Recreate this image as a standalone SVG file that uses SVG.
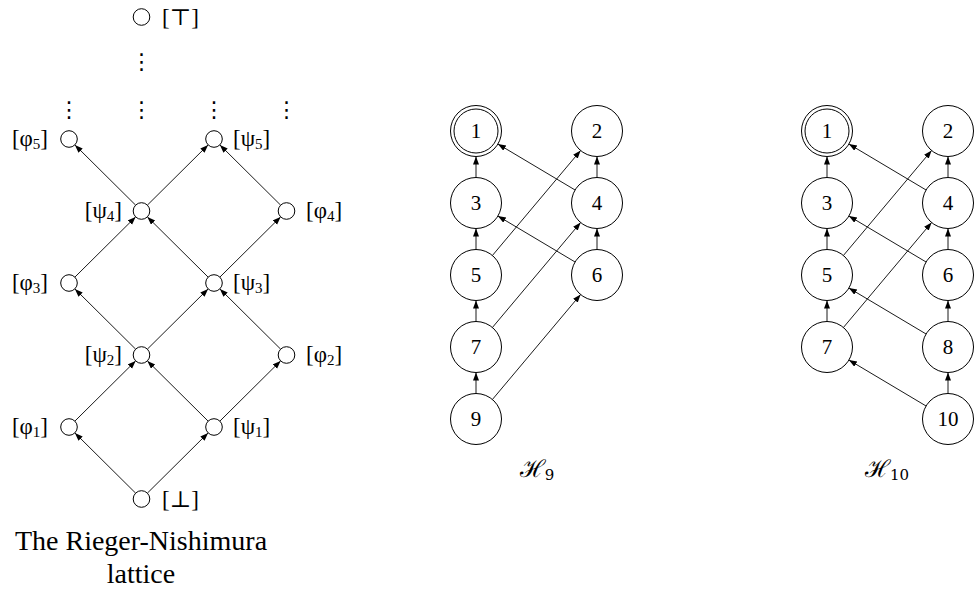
<svg xmlns="http://www.w3.org/2000/svg" width="974" height="592" viewBox="0 0 974 592">
<style>
.bg{fill:#fff}
.sn{fill:#fff;stroke:#000;stroke-width:1}
.bn{fill:#fff;stroke:#000;stroke-width:1}
.e{stroke:#000;stroke-width:0.9;fill:none;marker-end:url(#ah)}
.lb{font-family:"Liberation Serif","DejaVu Serif",serif;font-size:23px;fill:#000}
.num{font-family:"Liberation Serif","DejaVu Serif",serif;font-size:21px;fill:#000;text-anchor:middle}
.cap{font-family:"Liberation Serif","DejaVu Serif",serif;font-size:28px;fill:#000;text-anchor:middle}
.hc{font-family:"DejaVu Serif","Liberation Serif",serif;font-size:24px;fill:#000;text-anchor:middle}
.dots{font-family:"DejaVu Sans",sans-serif;font-size:22px;fill:#000;text-anchor:middle}
.sub{font-size:15px}
</style>
<defs>
<marker id="ah" markerUnits="userSpaceOnUse" markerWidth="10" markerHeight="8" refX="8" refY="3" orient="auto">
<path d="M0,0 L8,3 L0,6 z" fill="#000"/>
</marker>
</defs>
<rect class="bg" x="0" y="0" width="974" height="592"/>

<g id="connectors">
<!-- lattice -->
<line class="e" x1="135.6" y1="205.1" x2="74.9" y2="144.9"/>
<line class="e" x1="147.4" y1="205.1" x2="208.1" y2="144.9"/>
<line class="e" x1="280.6" y1="205.1" x2="219.9" y2="144.9"/>
<line class="e" x1="74.9" y1="277.1" x2="135.6" y2="216.9"/>
<line class="e" x1="208.1" y1="277.1" x2="147.4" y2="216.9"/>
<line class="e" x1="219.9" y1="277.1" x2="280.6" y2="216.9"/>
<line class="e" x1="135.6" y1="349.1" x2="74.9" y2="288.9"/>
<line class="e" x1="147.4" y1="349.1" x2="208.1" y2="288.9"/>
<line class="e" x1="280.6" y1="349.1" x2="219.9" y2="288.9"/>
<line class="e" x1="74.9" y1="421.1" x2="135.6" y2="360.9"/>
<line class="e" x1="208.1" y1="421.1" x2="147.4" y2="360.9"/>
<line class="e" x1="219.9" y1="421.1" x2="280.6" y2="360.9"/>
<line class="e" x1="135.6" y1="493.1" x2="74.9" y2="432.9"/>
<line class="e" x1="147.4" y1="493.1" x2="208.1" y2="432.9"/>
<!-- H9 -->
<line class="e" x1="476" y1="177.5" x2="476" y2="156.5"/>
<line class="e" x1="476" y1="249.5" x2="476" y2="228.5"/>
<line class="e" x1="476" y1="321.5" x2="476" y2="300.5"/>
<line class="e" x1="476" y1="393.5" x2="476" y2="372.5"/>
<line class="e" x1="597" y1="177.5" x2="597" y2="156.5"/>
<line class="e" x1="597" y1="249.5" x2="597" y2="228.5"/>
<line class="e" x1="575.1" y1="190" x2="497.9" y2="144"/>
<line class="e" x1="492.4" y1="255.5" x2="580.6" y2="150.5"/>
<line class="e" x1="575.1" y1="262" x2="497.9" y2="216"/>
<line class="e" x1="492.4" y1="327.5" x2="580.6" y2="222.5"/>
<line class="e" x1="492.4" y1="399.5" x2="580.6" y2="294.5"/>
<!-- H10 -->
<line class="e" x1="827" y1="177.5" x2="827" y2="156.5"/>
<line class="e" x1="827" y1="249.5" x2="827" y2="228.5"/>
<line class="e" x1="827" y1="321.5" x2="827" y2="300.5"/>
<line class="e" x1="948" y1="177.5" x2="948" y2="156.5"/>
<line class="e" x1="948" y1="249.5" x2="948" y2="228.5"/>
<line class="e" x1="948" y1="321.5" x2="948" y2="300.5"/>
<line class="e" x1="948" y1="393.5" x2="948" y2="372.5"/>
<line class="e" x1="926.1" y1="190" x2="848.9" y2="144"/>
<line class="e" x1="843.4" y1="255.5" x2="931.6" y2="150.5"/>
<line class="e" x1="926.1" y1="262" x2="848.9" y2="216"/>
<line class="e" x1="843.4" y1="327.5" x2="931.6" y2="222.5"/>
<line class="e" x1="926.1" y1="334" x2="848.9" y2="288"/>
<line class="e" x1="926.1" y1="406" x2="848.9" y2="360"/>
</g>

<!-- lattice nodes -->
<g id="top"><circle class="sn" cx="141.5" cy="17" r="8.3"/><text class="lb" x="162" y="25">[⊤]</text></g>
<g id="vdots">
<text class="dots" x="141.5" y="69">⋮</text>
<text class="dots" x="69" y="117">⋮</text>
<text class="dots" x="141.5" y="117">⋮</text>
<text class="dots" x="214" y="117">⋮</text>
<text class="dots" x="286.5" y="117">⋮</text>
</g>
<g id="phi5"><circle class="sn" cx="69" cy="139" r="8.3"/><text class="lb" x="48" y="146" text-anchor="end">[φ<tspan class="sub" dy="3">5</tspan><tspan dy="-3">]</tspan></text></g>
<g id="psi5"><circle class="sn" cx="214" cy="139" r="8.3"/><text class="lb" x="233" y="146">[ψ<tspan class="sub" dy="3">5</tspan><tspan dy="-3">]</tspan></text></g>
<g id="psi4"><circle class="sn" cx="141.5" cy="211" r="8.3"/><text class="lb" x="122" y="218" text-anchor="end">[ψ<tspan class="sub" dy="3">4</tspan><tspan dy="-3">]</tspan></text></g>
<g id="phi4"><circle class="sn" cx="286.5" cy="211" r="8.3"/><text class="lb" x="306" y="218">[φ<tspan class="sub" dy="3">4</tspan><tspan dy="-3">]</tspan></text></g>
<g id="phi3"><circle class="sn" cx="69" cy="283" r="8.3"/><text class="lb" x="48" y="290" text-anchor="end">[φ<tspan class="sub" dy="3">3</tspan><tspan dy="-3">]</tspan></text></g>
<g id="psi3"><circle class="sn" cx="214" cy="283" r="8.3"/><text class="lb" x="233" y="290">[ψ<tspan class="sub" dy="3">3</tspan><tspan dy="-3">]</tspan></text></g>
<g id="psi2"><circle class="sn" cx="141.5" cy="355" r="8.3"/><text class="lb" x="122" y="362" text-anchor="end">[ψ<tspan class="sub" dy="3">2</tspan><tspan dy="-3">]</tspan></text></g>
<g id="phi2"><circle class="sn" cx="286.5" cy="355" r="8.3"/><text class="lb" x="306" y="362">[φ<tspan class="sub" dy="3">2</tspan><tspan dy="-3">]</tspan></text></g>
<g id="phi1"><circle class="sn" cx="69" cy="427" r="8.3"/><text class="lb" x="48" y="434" text-anchor="end">[φ<tspan class="sub" dy="3">1</tspan><tspan dy="-3">]</tspan></text></g>
<g id="psi1"><circle class="sn" cx="214" cy="427" r="8.3"/><text class="lb" x="233" y="434">[ψ<tspan class="sub" dy="3">1</tspan><tspan dy="-3">]</tspan></text></g>
<g id="bot"><circle class="sn" cx="141.5" cy="499" r="8.3"/><text class="lb" x="162" y="507">[⊥]</text></g>
<g id="lattice-caption"><text class="cap" x="141" y="550">The Rieger-Nishimura</text><text class="cap" x="141" y="583">lattice</text></g>

<!-- H9 nodes -->
<g id="h9-1"><circle class="bn" cx="476" cy="131" r="25.5"/><circle class="bn" cx="476" cy="131" r="22"/><text class="num" x="476" y="138">1</text></g>
<g id="h9-2"><circle class="bn" cx="597" cy="131" r="25.5"/><text class="num" x="597" y="138">2</text></g>
<g id="h9-3"><circle class="bn" cx="476" cy="203" r="25.5"/><text class="num" x="476" y="210">3</text></g>
<g id="h9-4"><circle class="bn" cx="597" cy="203" r="25.5"/><text class="num" x="597" y="210">4</text></g>
<g id="h9-5"><circle class="bn" cx="476" cy="275" r="25.5"/><text class="num" x="476" y="282">5</text></g>
<g id="h9-6"><circle class="bn" cx="597" cy="275" r="25.5"/><text class="num" x="597" y="282">6</text></g>
<g id="h9-7"><circle class="bn" cx="476" cy="347" r="25.5"/><text class="num" x="476" y="354">7</text></g>
<g id="h9-9"><circle class="bn" cx="476" cy="419" r="25.5"/><text class="num" x="476" y="426">9</text></g>
<g id="h9-caption"><text class="hc" x="537" y="477">ℋ<tspan class="sub" dy="3">9</tspan></text></g>

<!-- H10 nodes -->
<g id="h10-1"><circle class="bn" cx="827" cy="131" r="25.5"/><circle class="bn" cx="827" cy="131" r="22"/><text class="num" x="827" y="138">1</text></g>
<g id="h10-2"><circle class="bn" cx="948" cy="131" r="25.5"/><text class="num" x="948" y="138">2</text></g>
<g id="h10-3"><circle class="bn" cx="827" cy="203" r="25.5"/><text class="num" x="827" y="210">3</text></g>
<g id="h10-4"><circle class="bn" cx="948" cy="203" r="25.5"/><text class="num" x="948" y="210">4</text></g>
<g id="h10-5"><circle class="bn" cx="827" cy="275" r="25.5"/><text class="num" x="827" y="282">5</text></g>
<g id="h10-6"><circle class="bn" cx="948" cy="275" r="25.5"/><text class="num" x="948" y="282">6</text></g>
<g id="h10-7"><circle class="bn" cx="827" cy="347" r="25.5"/><text class="num" x="827" y="354">7</text></g>
<g id="h10-8"><circle class="bn" cx="948" cy="347" r="25.5"/><text class="num" x="948" y="354">8</text></g>
<g id="h10-10"><circle class="bn" cx="948" cy="419" r="25.5"/><text class="num" x="948" y="426">10</text></g>
<g id="h10-caption"><text class="hc" x="887" y="477">ℋ<tspan class="sub" dy="3">10</tspan></text></g>
</svg>
